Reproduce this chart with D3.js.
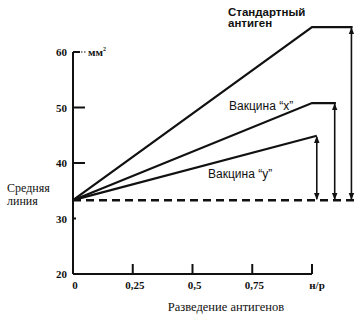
<!DOCTYPE html>
<html>
<head>
<meta charset="utf-8">
<script src="https://cdn.jsdelivr.net/npm/d3@7"></script>
<style>
  body { margin: 0; background: #fff; }
  svg { display: block; }
</style>
</head>
<body>
<svg id="chart" width="361" height="320"></svg>
<script>
// data
const yTicks = [20, 30, 40, 50, 60];
const xTicks = [0, 0.25, 0.5, 0.75, 1];
const xTickLabels = ['0', '0,25', '0,5', '0,75', 'н/р'];
const meanLevel = 33.3;
const meanEnd = 1.19;
const seriesNames = ['Стандартный антиген', 'Вакцина “x”', 'Вакцина “y”'];
const seriesX = [[0, 1.0, 1.17], [0, 1.0, 1.10], [0, 1.02, 1.02]];
const seriesY = [[33.3, 64.5, 64.5], [33.3, 50.8, 50.8], [33.3, 44.9, 44.9]];
const arrowX = [1.165, 1.095, 1.02];
const arrowTop = [64.5, 50.8, 44.9];

const svg = d3.select('svg');
const ink = '#111';
const serif = "'Liberation Serif', 'DejaVu Serif', serif";
const sans = "'Liberation Sans', Arial, sans-serif";

const x = d3.scaleLinear().domain([0, 1]).range([73, 312]);
const y = d3.scaleLinear().domain([20, 60]).range([274, 52]);

svg.append('defs').append('marker')
  .attr('id', 'head')
  .attr('viewBox', '0 0 10 10')
  .attr('refX', 9)
  .attr('refY', 5)
  .attr('markerWidth', 7)
  .attr('markerHeight', 7)
  .attr('orient', 'auto-start-reverse')
  .attr('markerUnits', 'userSpaceOnUse')
  .append('path')
  .attr('d', 'M0,1 L10,5 L0,9 Z')
  .attr('fill', ink);

// axes
svg.append('line')
  .attr('x1', x(0)).attr('x2', x(0))
  .attr('y1', y(20)).attr('y2', y(60))
  .attr('stroke', ink).attr('stroke-width', 2);
svg.append('line')
  .attr('x1', x(0)).attr('x2', x(1))
  .attr('y1', y(20)).attr('y2', y(20))
  .attr('stroke', ink).attr('stroke-width', 2);

// y ticks (inside) and labels
svg.selectAll('.ytick')
  .data(yTicks.filter((d) => d > 20))
  .enter()
  .append('line')
  .attr('x1', x(0))
  .attr('x2', (d) => x(0) + (d === 30 ? 3 : d === 60 ? 7 : 12))
  .attr('y1', (d) => y(d))
  .attr('y2', (d) => y(d))
  .attr('stroke', ink)
  .attr('stroke-width', 2);
svg.append('line')
  .attr('x1', x(0) + 8).attr('x2', x(0) + 14)
  .attr('y1', y(60)).attr('y2', y(60))
  .attr('stroke', ink).attr('stroke-width', 1.2)
  .attr('stroke-dasharray', '1.5 1.5');

svg.selectAll('.ylab')
  .data(yTicks)
  .enter()
  .append('text')
  .attr('x', 67)
  .attr('y', (d) => y(d) + 4)
  .attr('text-anchor', 'end')
  .attr('font-family', serif)
  .attr('font-weight', 700)
  .attr('font-size', 11)
  .attr('fill', ink)
  .text((d) => d);

svg.append('text')
  .attr('x', 88).attr('y', 56)
  .attr('font-family', serif)
  .attr('font-weight', 700)
  .attr('font-size', 11)
  .attr('fill', ink)
  .text('мм')
  .append('tspan')
  .attr('dy', -5)
  .attr('font-size', 6)
  .text('2');

// x ticks (inside) and labels
svg.selectAll('.xtick')
  .data(xTicks.filter((d) => d > 0))
  .enter()
  .append('line')
  .attr('x1', (d) => x(d)).attr('x2', (d) => x(d))
  .attr('y1', y(20)).attr('y2', y(20) - 10)
  .attr('stroke', ink)
  .attr('stroke-width', 2);

svg.selectAll('.xlab')
  .data(xTicks)
  .enter()
  .append('text')
  .attr('x', (d, i) => x(d) + (i === 4 ? 5 : 2))
  .attr('y', 289)
  .attr('text-anchor', 'middle')
  .attr('font-family', serif)
  .attr('font-weight', 700)
  .attr('font-size', 11)
  .attr('fill', ink)
  .text((d, i) => xTickLabels[i]);

svg.append('text')
  .attr('x', 226).attr('y', 311)
  .attr('text-anchor', 'middle')
  .attr('font-family', serif)
  .attr('font-size', 12.5)
  .attr('fill', ink)
  .text('Разведение антигенов');

// mean line
svg.append('line')
  .attr('x1', x(0)).attr('x2', x(meanEnd))
  .attr('y1', y(meanLevel)).attr('y2', y(meanLevel))
  .attr('stroke', ink).attr('stroke-width', 2.5)
  .attr('stroke-dasharray', '8 5');

svg.append('text')
  .attr('font-family', serif)
  .attr('font-size', 12)
  .attr('fill', ink)
  .selectAll('tspan')
  .data(['Средняя', 'линия'])
  .enter()
  .append('tspan')
  .attr('x', 7)
  .attr('y', (d, i) => 192 + i * 13)
  .text((d) => d);

// series lines
const line = d3.line().x((d) => x(d[0])).y((d) => y(d[1]));
seriesX.forEach((xs, s) => {
  const pts = xs.map((v, i) => [v, seriesY[s][i]]);
  svg.append('path')
    .attr('d', line(pts))
    .attr('fill', 'none')
    .attr('stroke', ink)
    .attr('stroke-width', 2.2);
});

// double arrows
svg.selectAll('.arrow')
  .data(arrowX)
  .enter()
  .append('line')
  .attr('x1', (d) => x(d)).attr('x2', (d) => x(d))
  .attr('y1', (d, i) => y(arrowTop[i]) + 1)
  .attr('y2', y(meanLevel) - 1)
  .attr('stroke', ink)
  .attr('stroke-width', 1.6)
  .attr('marker-start', 'url(#head)')
  .attr('marker-end', 'url(#head)');

// series labels
svg.append('text')
  .attr('font-family', sans)
  .attr('font-weight', 700)
  .attr('font-size', 11.5)
  .attr('fill', ink)
  .selectAll('tspan')
  .data(['Стандартный', 'антиген'])
  .enter()
  .append('tspan')
  .attr('x', 228)
  .attr('y', (d, i) => 16 + i * 11)
  .text((d) => d);

svg.append('text')
  .attr('x', 229).attr('y', 110)
  .attr('font-family', sans)
  .attr('font-size', 12)
  .attr('fill', ink)
  .text(seriesNames[1]);

svg.append('text')
  .attr('x', 208).attr('y', 178)
  .attr('font-family', sans)
  .attr('font-size', 12)
  .attr('fill', ink)
  .text(seriesNames[2]);
</script>
</body>
</html>
